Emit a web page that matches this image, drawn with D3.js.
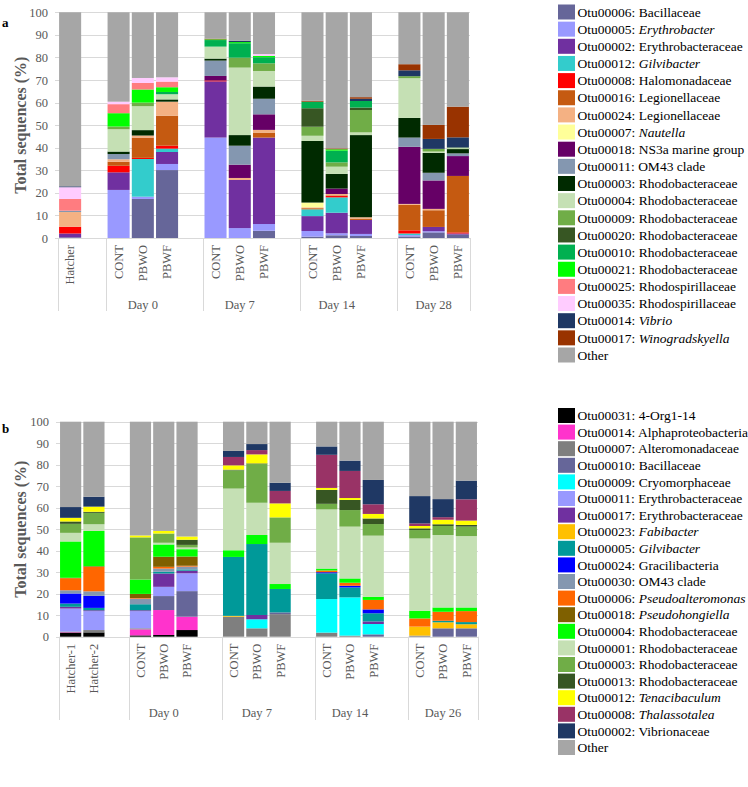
<!DOCTYPE html>
<html><head><meta charset="utf-8">
<script src="https://cdn.jsdelivr.net/npm/d3@7"></script>
<style>body{margin:0;background:#fff}svg{display:block}</style>
</head><body>
<svg id="c" width="748" height="787"></svg>
<script>
const yTicks = [0,10,20,30,40,50,60,70,80,90,100];

// ---------- Panel a ----------
const groupsA = ["", "Day 0", "Day 7", "Day 14", "Day 28"];
const samplesA = [["Hatcher"], ["CONT","PBWO","PBWF"], ["CONT","PBWO","PBWF"], ["CONT","PBWO","PBWF"], ["CONT","PBWO","PBWF"]];
const otuIdsA = ["Otu00006","Otu00005","Otu00002","Otu00012","Otu00008","Otu00016","Otu00024","Otu00007","Otu00018","Otu00011","Otu00003","Otu00004","Otu00009","Otu00020","Otu00010","Otu00021","Otu00025","Otu00035","Otu00014","Otu00017","Other"];
const taxaA = ["Bacillaceae","Erythrobacter","Erythrobacteraceae","Gilvibacter","Halomonadaceae","Legionellaceae","Legionellaceae","Nautella","NS3a marine group","OM43 clade","Rhodobacteraceae","Rhodobacteraceae","Rhodobacteraceae","Rhodobacteraceae","Rhodobacteraceae","Rhodobacteraceae","Rhodospirillaceae","Rhodospirillaceae","Vibrio","Winogradskyella",""];
const italicA = [0,1,0,1,0,0,0,1,0,0,0,0,0,0,0,0,0,0,1,1,0];
const colorsA = ["#666699","#9999ff","#7030a0","#33cccc","#ff0000","#c55a11","#f4b183","#ffff99","#660066","#8497b0","#002a00","#c5e0b4","#70ad47","#375623","#00b050","#00ff00","#ff7c80","#ffccff","#1f3864","#993300","#a6a6a6"];
// values per series, columns: Hatcher, D0 CONT/PBWO/PBWF, D7 x3, D14 x3, D28 x3
const a06 = [0.3, 0, 17.3, 30.1, 0, 0, 3.2, 0.6, 1.2, 0.9, 0.7, 2.5, 1.5];
const a05 = [0, 21.3, 1.0, 2.7, 44.5, 4.4, 3.0, 2.5, 0.9, 0.9, 0.6, 0.5, 0];
const a02 = [1.7, 7.8, 0, 5.3, 24.9, 21.3, 38.3, 6.6, 9.1, 6.2, 0, 1.9, 0.5];
const a12 = [0, 0, 16.7, 1.5, 0, 0, 0, 3.0, 6.8, 0, 0.7, 0, 0];
const a08 = [3.0, 2.9, 0.5, 1.3, 0.4, 0, 0, 0, 0.6, 0, 1.4, 0, 0.5];
const a16 = [0, 1.8, 9.0, 13.3, 0, 0, 2.2, 0.5, 0.3, 0.6, 11.3, 7.4, 25.0];
const a24 = [6.5, 1.1, 0.9, 6.2, 0, 0.9, 1.2, 0.4, 0.6, 0.6, 0.4, 0.6, 0];
const a07 = [0, 0, 0, 0, 0, 0, 0, 2.1, 0, 0, 0, 0, 0];
const a18 = [0, 0, 0, 0, 2.0, 5.9, 6.9, 0, 2.4, 0, 25.3, 12.6, 8.8];
const a11 = [0.6, 2.3, 0, 0, 6.8, 8.4, 6.9, 0, 0, 0, 4.1, 3.4, 1.2];
const a03 = [0, 1.1, 2.4, 1.0, 0.9, 4.7, 5.4, 27.3, 6.5, 36.4, 8.7, 8.8, 1.9];
const a04 = [0, 9.9, 10.6, 2.3, 5.3, 29.9, 6.9, 2.3, 3.2, 1.2, 17.6, 0.6, 0.4];
const a09 = [0, 1.2, 1.6, 0, 0, 4.4, 3.4, 4.0, 1.9, 9.9, 0.9, 1.2, 0.3];
const a20 = [0, 0, 0, 0, 0, 0, 0, 8.2, 0, 1.1, 0, 0, 0];
const a10 = [0, 0, 0, 1.0, 2.9, 6.4, 2.7, 2.9, 5.2, 2.9, 0, 0, 0];
const a21 = [0, 5.9, 5.8, 2.1, 0.3, 0.5, 0.6, 0, 0.6, 0, 0, 0, 0];
const a25 = [5.2, 4.0, 2.9, 2.5, 0, 0, 0, 0, 0, 0, 0, 0, 0];
const a35 = [5.2, 1.1, 2.2, 1.9, 0, 0, 0.8, 0, 0, 0, 0, 0, 0];
const a14 = [0.4, 0, 0, 0, 0, 0.6, 0, 0, 0, 1.0, 2.6, 4.4, 4.5];
const a17 = [0, 0, 0, 0, 0.3, 0, 0, 0.4, 0.4, 0.7, 2.7, 6.2, 13.6];
const aOther = [77.1, 39.6, 29.1, 28.8, 11.7, 12.6, 18.5, 39.2, 60.3, 37.6, 23.0, 49.9, 41.8];
const seriesA = [a06,a05,a02,a12,a08,a16,a24,a07,a18,a11,a03,a04,a09,a20,a10,a21,a25,a35,a14,a17,aOther];

// ---------- Panel b ----------
const groupsB = ["", "Day 0", "Day 7", "Day 14", "Day 26"];
const samplesB = [["Hatcher-1","Hatcher-2"], ["CONT","PBWO","PBWF"], ["CONT","PBWO","PBWF"], ["CONT","PBWO","PBWF"], ["CONT","PBWO","PBWF"]];
const otuIdsB = ["Otu00031","Otu00014","Otu00007","Otu00010","Otu00009","Otu00011","Otu00017","Otu00023","Otu00005","Otu00024","Otu00030","Otu00006","Otu00018","Otu00004","Otu00001","Otu00003","Otu00013","Otu00012","Otu00008","Otu00002","Other"];
const taxaB = ["4-Org1-14","Alphaproteobacteria","Alteromonadaceae","Bacillaceae","Cryomorphaceae","Erythrobacteraceae","Erythrobacteraceae","Fabibacter","Gilvibacter","Gracilibacteria","OM43 clade","Pseudoalteromonas","Pseudohongiella","Rhodobacteraceae","Rhodobacteraceae","Rhodobacteraceae","Rhodobacteraceae","Tenacibaculum","Thalassotalea","Vibrionaceae",""];
const italicB = [0,0,0,0,0,0,0,1,1,0,0,1,1,0,0,0,0,1,1,0,0];
const colorsB = ["#000000","#ff33cc","#7f7f7f","#666699","#00ffff","#9999ff","#7030a0","#ffc000","#009999","#0000ff","#8497b0","#ff6600","#7f6000","#00ff00","#c5e0b4","#70ad47","#375623","#ffff00","#993366","#1f3864","#a6a6a6"];
// columns: Hatcher-1, Hatcher-2, D0 x3, D7 x3, D14 x3, D26 x3
const b31 = [1.9, 2.0, 0.6, 0.8, 3.1, 0, 0, 0, 0, 0, 0, 0, 0, 0];
const b14 = [0.2, 0, 2.8, 11.6, 6.2, 0, 0, 0, 0, 0, 0, 0, 0, 0];
const b07 = [0.3, 1.1, 0.5, 0, 0, 9.3, 3.9, 10.5, 1.9, 0.5, 0, 0.5, 0, 0];
const b10 = [0, 0, 0, 6.5, 11.9, 0, 0, 0.8, 0, 0, 1.1, 0, 3.9, 3.9];
const b09 = [0, 0, 0, 0, 0, 0, 4.2, 0, 15.6, 17.8, 4.8, 0, 0, 0];
const b11 = [10.7, 8.8, 8.0, 4.3, 8.3, 0, 0, 0, 0, 0, 0, 0, 0, 0];
const b17 = [0.8, 0.4, 0.4, 6.2, 1.2, 0, 2.0, 0, 0, 0, 1.2, 0, 0, 0];
const b23 = [0, 0, 0, 0, 0, 0.4, 0, 0, 0, 0, 0, 4.2, 2.8, 1.9];
const b05 = [1.5, 1.1, 2.8, 0.8, 0.6, 27.4, 33.0, 10.9, 12.0, 4.6, 3.8, 0, 0.7, 1.0];
const b24 = [4.7, 5.6, 0, 0, 0, 0, 0, 0, 0.5, 0.8, 1.8, 0, 0, 0];
const b30 = [1.5, 2.1, 2.6, 1.5, 1.3, 0, 0, 0, 0, 0, 0, 0, 0, 0];
const b06 = [5.6, 11.4, 0.3, 0.8, 0.4, 0, 0, 0, 0.8, 1.4, 4.4, 3.8, 4.2, 5.1];
const b18 = [0.2, 0.3, 1.9, 4.7, 4.3, 0, 0, 0, 0, 0, 0, 0, 0, 0];
const b04 = [16.9, 16.4, 6.7, 5.7, 3.4, 3.1, 4.2, 2.3, 0.9, 2.0, 1.5, 3.6, 2.0, 1.7];
const b01 = [4.0, 3.1, 0, 0.8, 0.8, 28.7, 15.0, 19.2, 27.5, 24.1, 28.4, 33.6, 33.7, 33.2];
const b03 = [4.2, 5.3, 19.6, 4.3, 1.2, 8.5, 18.0, 11.8, 2.6, 7.7, 5.4, 3.9, 4.2, 4.4];
const b13 = [1.1, 0.5, 0, 0, 2.4, 0.3, 0.3, 0, 6.5, 4.7, 2.6, 0.8, 0.8, 0.8];
const b12 = [1.7, 2.4, 0.9, 1.2, 1.5, 2.0, 4.2, 6.5, 0.9, 0.9, 2.1, 1.1, 2.1, 2.0];
const b08 = [0, 0, 0, 0, 0, 3.9, 2.0, 5.8, 15.4, 12.6, 4.5, 1.2, 1.2, 9.9];
const b02 = [5.0, 4.6, 0, 0, 0, 2.8, 2.8, 3.8, 3.9, 4.8, 11.3, 12.7, 8.4, 8.7];
const bOther = [39.7, 34.9, 52.9, 50.8, 53.4, 13.6, 10.4, 28.4, 11.5, 18.1, 27.1, 34.6, 36.0, 27.4];
const seriesB = [b31,b14,b07,b10,b09,b11,b17,b23,b05,b24,b30,b06,b18,b04,b01,b03,b13,b12,b08,b02,bOther];

const serif = "'Liberation Serif','Times New Roman',serif";
const axisColor = "#595959";
const lineColor = "#d9d9d9";
const svg = d3.select("#c");

function panel(cfg) {
  const g = svg.append("g");
  // build slots: each group's samples, then a gap slot (except last group)
  const slots = [];
  const sampleKeys = [];
  const groupBounds = [];
  cfg.samples.forEach((list, gi) => {
    const start = slots.length;
    list.forEach((s, si) => { const k = gi + "|" + si; slots.push(k); sampleKeys.push({key: k, label: s}); });
    if (gi < cfg.samples.length - 1) slots.push("gap" + gi);
    groupBounds.push({start, end: slots.length, label: cfg.groups[gi]});
  });
  const x = d3.scaleBand().domain(slots).range(cfg.xr).paddingInner(0.09).paddingOuter(0.045);
  const y = d3.scaleLinear().domain([0, 100]).range([cfg.y0, cfg.y100]);
  const step = x.step();
  const b0 = cfg.xr[0];

  // gridlines
  g.append("g").selectAll("line").data(yTicks).join("line")
    .attr("x1", cfg.xr[0] - 3).attr("x2", cfg.xr[1])
    .attr("y1", d => Math.round(y(d)) + 0.5).attr("y2", d => Math.round(y(d)) + 0.5)
    .attr("stroke", lineColor).attr("stroke-width", 1);

  // y axis labels
  const yAxis = d3.axisLeft(y).tickValues(yTicks).tickSize(0).tickPadding(0);
  const ya = g.append("g").attr("transform", `translate(${cfg.xr[0] - 10},0)`).call(yAxis);
  ya.select(".domain").remove();
  ya.selectAll("text").attr("font-family", serif).attr("font-size", "12.5px").attr("fill", axisColor);

  // stacked bars
  const nS = sampleKeys.length;
  const rows = d3.range(nS).map(i => {
    const o = {key: sampleKeys[i].key};
    cfg.series.forEach((arr, si) => o["s" + si] = arr[i]);
    return o;
  });
  const stack = d3.stack().keys(cfg.series.map((_, si) => "s" + si))(rows);
  g.append("g").selectAll("g").data(stack).join("g")
    .attr("fill", (d, i) => cfg.colors[i])
    .selectAll("rect").data(d => d).join("rect")
    .attr("x", d => x(d.data.key)).attr("width", x.bandwidth())
    .attr("y", d => y(d[1])).attr("height", d => Math.max(0, y(d[0]) - y(d[1])));

  // group divider lines
  const bounds = [];
  groupBounds.forEach((gb, i) => { bounds.push(b0 + gb.start * step); });
  bounds.push(b0 + groupBounds[groupBounds.length - 1].end * step);
  g.append("g").selectAll("line").data(bounds).join("line")
    .attr("x1", d => Math.round(d) + 0.5).attr("x2", d => Math.round(d) + 0.5)
    .attr("y1", cfg.y0).attr("y2", cfg.divEnd)
    .attr("stroke", lineColor).attr("stroke-width", 1);

  // sample labels (rotated)
  g.append("g").selectAll("text").data(sampleKeys).join("text")
    .attr("transform", d => `translate(${x(d.key) + x.bandwidth() / 2},${cfg.y0 + 7}) rotate(-90)`)
    .attr("dy", "0.35em").attr("text-anchor", "end")
    .attr("font-family", serif).attr("font-size", "12.5px").attr("fill", axisColor)
    .text(d => d.label);

  // group labels
  g.append("g").selectAll("text").data(groupBounds.filter(d => d.label)).join("text")
    .attr("x", d => b0 + (d.start + (d.end - d.start - (d.end < slots.length ? 1 : 0)) / 2) * step)
    .attr("y", cfg.dayY)
    .attr("text-anchor", "middle").attr("font-family", serif).attr("font-size", "12.5px").attr("fill", axisColor)
    .text(d => d.label);

  // y title
  g.append("text")
    .attr("transform", `translate(20,${(cfg.y0 + cfg.y100) / 2}) rotate(-90)`)
    .attr("dy", "0.35em").attr("text-anchor", "middle")
    .attr("font-family", serif).attr("font-size", "16px").attr("font-weight", "bold").attr("fill", axisColor)
    .text("Total sequences (%)");

  // panel letter
  g.append("text").attr("x", 2).attr("y", cfg.letterY)
    .attr("font-family", serif).attr("font-size", "13px").attr("font-weight", "bold").attr("fill", "#000")
    .text(cfg.letter);

  // legend (top entry = first series / bottom of stack)
  const lg = g.append("g");
  const items = cfg.ids.map((id, i) => ({id, tax: cfg.taxa[i], it: cfg.italic[i], c: cfg.colors[i], i}));
  const row = lg.selectAll("g").data(items).join("g")
    .attr("transform", d => `translate(558,${cfg.legY + d.i * cfg.legStep})`);
  row.append("rect").attr("x", 0).attr("y", -7.5).attr("width", 17).attr("height", 15).attr("fill", d => d.c);
  const t = row.append("text").attr("x", 19.5).attr("dy", "0.35em")
    .attr("font-family", serif).attr("font-size", "13.5px").attr("fill", "#000");
  t.each(function(d) {
    const el = d3.select(this);
    if (d.id === "Other") { el.text("Other"); return; }
    el.append("tspan").text(d.id + ": ");
    el.append("tspan").attr("font-style", d.it ? "italic" : "normal").text(d.tax);
  });
}

panel({letter: "a", letterY: 27, groups: groupsA, samples: samplesA, series: seriesA, colors: colorsA,
  ids: otuIdsA, taxa: taxaA, italic: italicA,
  xr: [58, 470], y0: 238, y100: 12.3, divEnd: 311, dayY: 308.5, legY: 12, legStep: 17.15});
panel({letter: "b", letterY: 433, groups: groupsB, samples: samplesB, series: seriesB, colors: colorsB,
  ids: otuIdsB, taxa: taxaB, italic: italicB,
  xr: [59, 478], y0: 636.7, y100: 421.7, divEnd: 720, dayY: 716.5, legY: 415.5, legStep: 16.6});
</script>
</body></html>
